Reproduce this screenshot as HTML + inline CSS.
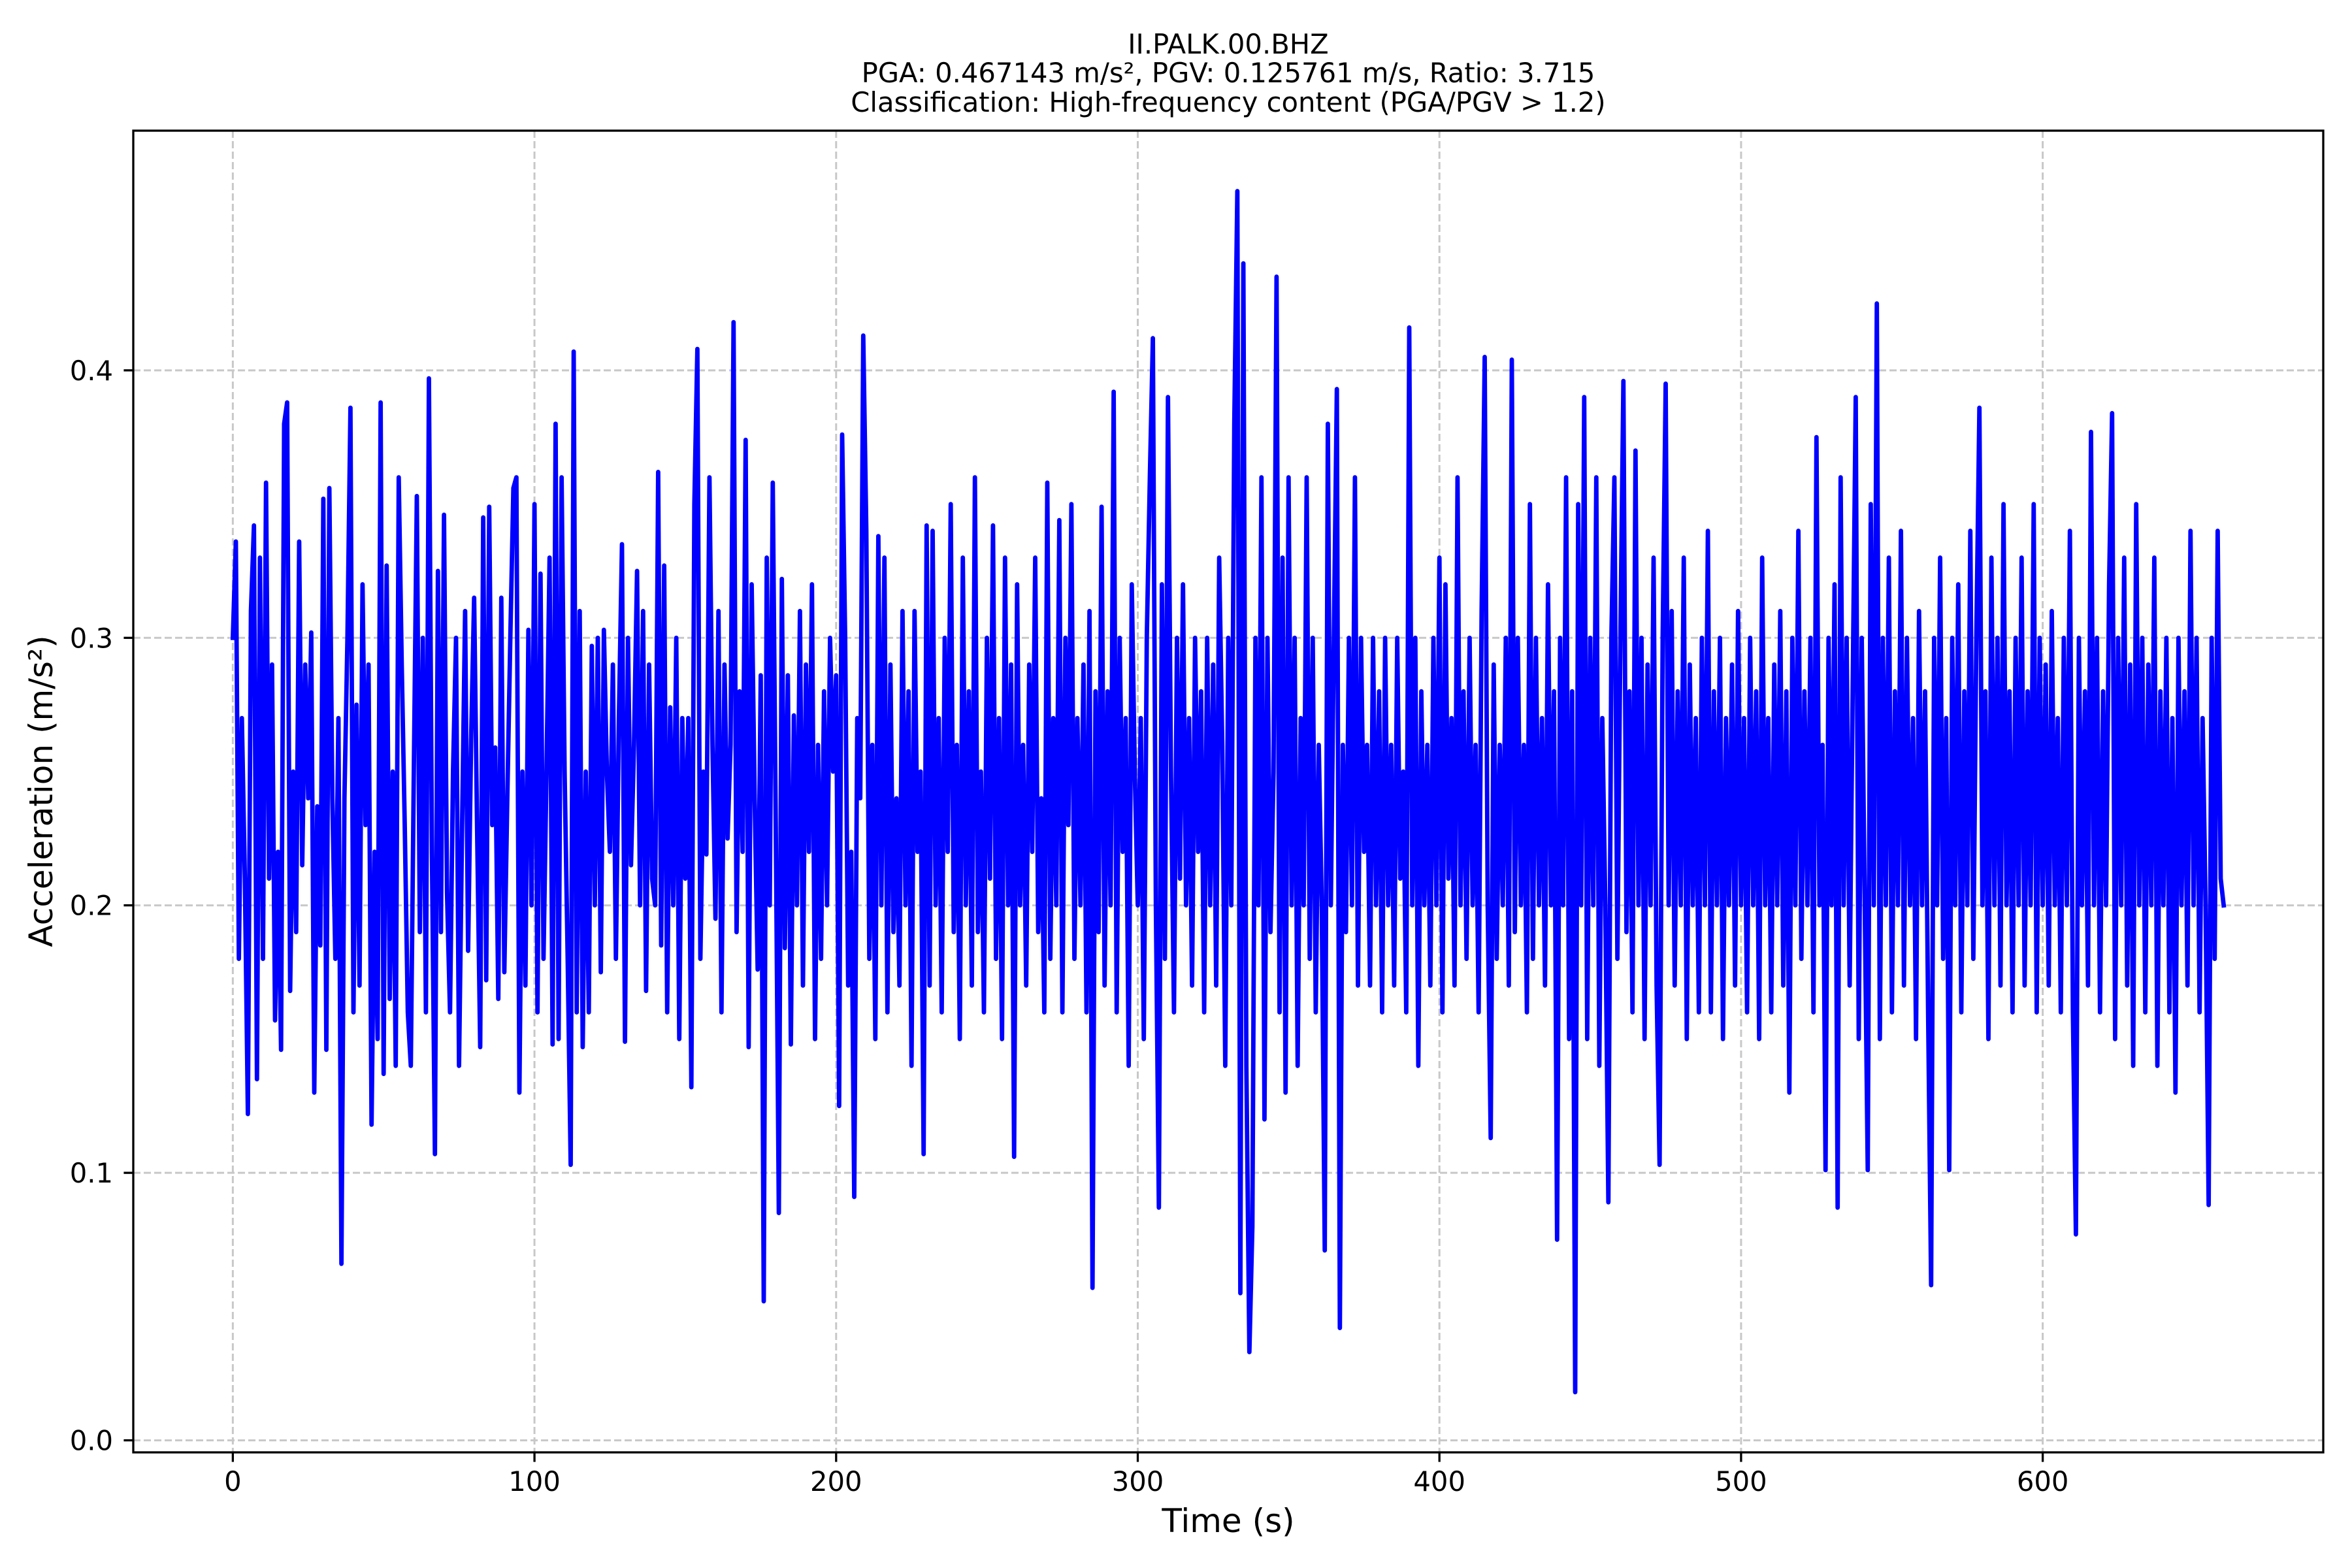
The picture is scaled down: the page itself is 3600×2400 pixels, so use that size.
<!DOCTYPE html>
<html><head><meta charset="utf-8"><style>
html,body{margin:0;padding:0;background:#fff;}
svg{display:block;font-family:"DejaVu Sans","Liberation Sans",sans-serif;}
</style></head><body>
<svg id="chart" xmlns="http://www.w3.org/2000/svg" width="3600" height="2400" viewBox="0 0 3600 2400">
<rect width="3600" height="2400" fill="#fff"/>
<g font-size="41.7" text-anchor="middle" fill="#000">
<text x="1880" y="82">II.PALK.00.BHZ</text>
<text x="1880" y="126">PGA: 0.467143 m/s², PGV: 0.125761 m/s, Ratio: 3.715</text>
<text x="1880" y="171">Classification: High-frequency content (PGA/PGV &gt; 1.2)</text>
</g>
<g id="grid"></g>
<g id="series"></g>
<rect x="204" y="200" width="3352" height="2023" fill="none" stroke="#000" stroke-width="3.3"/>
<g id="xticks"></g>
<g id="yticks"></g>
<text x="1880" y="2345" font-size="50" text-anchor="middle">Time (s)</text>
<text transform="translate(80,1211) rotate(-90)" font-size="50" text-anchor="middle">Acceleration (m/s²)</text>
</svg>
<script>
const xTickValues=[0,100,200,300,400,500,600];
const xTickLabels=["0","100","200","300","400","500","600"];
const yTickValues=[0,0.1,0.2,0.3,0.4];
const yTickLabels=["0.0","0.1","0.2","0.3","0.4"];
const timeStart=0;
const timeStep=1;
const accel=[
.30,.336,.18,.27,.21,.122,.31,.342,.135,.33,
.18,.358,.21,.29,.157,.22,.146,.38,.388,.168,
.25,.19,.336,.215,.29,.24,.302,.13,.237,.185,
.352,.146,.356,.24,.18,.27,.066,.24,.30,.386,
.16,.275,.17,.32,.23,.29,.118,.22,.15,.388,
.137,.327,.165,.25,.14,.36,.29,.23,.16,.14,
.25,.353,.19,.30,.16,.397,.22,.107,.325,.19,
.346,.205,.16,.25,.30,.14,.23,.31,.183,.262,
.315,.228,.147,.345,.172,.349,.23,.259,.165,.315,
.175,.24,.30,.356,.36,.13,.25,.17,.303,.2,
.35,.16,.324,.18,.25,.33,.148,.38,.15,.36,
.25,.18,.103,.407,.16,.31,.147,.25,.16,.297,
.2,.30,.175,.303,.25,.22,.29,.18,.27,.335,
.149,.3,.215,.26,.325,.2,.31,.168,.29,.21,
.2,.362,.185,.327,.16,.274,.2,.30,.15,.27,
.21,.27,.132,.35,.408,.18,.25,.219,.36,.26,
.195,.31,.16,.29,.225,.26,.418,.19,.28,.22,
.374,.147,.32,.24,.176,.286,.052,.33,.2,.358,
.23,.085,.322,.184,.286,.148,.271,.2,.31,.17,
.29,.22,.32,.15,.26,.18,.28,.2,.3,.25,
.286,.125,.376,.3,.17,.22,.091,.27,.24,.413,
.34,.18,.26,.15,.338,.2,.33,.16,.29,.19,
.24,.17,.31,.2,.28,.14,.31,.22,.25,.107,
.342,.17,.34,.2,.27,.16,.3,.22,.35,.19,
.26,.15,.33,.2,.28,.17,.36,.19,.25,.16,
.3,.21,.342,.18,.27,.15,.33,.2,.29,.106,
.32,.2,.26,.17,.29,.22,.33,.19,.24,.16,
.358,.18,.27,.2,.344,.16,.3,.23,.35,.18,
.27,.2,.29,.16,.31,.057,.28,.19,.349,.17,
.28,.2,.392,.16,.3,.22,.27,.14,.32,.25,
.2,.27,.15,.3,.36,.412,.2,.087,.32,.18,
.39,.25,.16,.3,.21,.32,.2,.27,.17,.3,
.22,.28,.16,.3,.2,.29,.17,.33,.26,.14,
.3,.2,.38,.467,.055,.44,.14,.033,.08,.3,
.2,.36,.12,.3,.19,.25,.435,.16,.33,.13,
.36,.2,.3,.14,.27,.2,.36,.18,.3,.16,
.26,.2,.071,.38,.2,.3,.393,.042,.26,.19,
.3,.2,.36,.17,.3,.22,.26,.17,.3,.2,
.28,.16,.3,.2,.26,.17,.3,.21,.25,.16,
.416,.2,.3,.14,.28,.2,.26,.17,.3,.2,
.33,.16,.32,.21,.27,.17,.36,.2,.28,.18,
.3,.2,.26,.16,.31,.405,.2,.113,.29,.18,
.26,.2,.3,.17,.404,.19,.3,.2,.26,.16,
.35,.18,.3,.2,.27,.17,.32,.2,.28,.075,
.3,.2,.36,.15,.28,.018,.35,.2,.39,.15,
.3,.2,.36,.14,.27,.2,.089,.3,.36,.18,
.3,.396,.19,.28,.16,.37,.2,.3,.15,.29,
.2,.33,.17,.103,.3,.395,.2,.31,.17,.28,
.2,.33,.15,.29,.2,.27,.16,.3,.2,.34,
.16,.28,.2,.3,.15,.27,.2,.29,.17,.31,
.2,.27,.16,.3,.2,.28,.15,.33,.2,.27,
.16,.29,.2,.31,.17,.28,.13,.3,.2,.34,
.18,.28,.2,.3,.16,.375,.2,.26,.101,.3,
.2,.32,.087,.36,.2,.3,.17,.28,.39,.15,
.3,.2,.101,.35,.2,.425,.15,.3,.2,.33,
.16,.28,.2,.34,.17,.3,.2,.27,.15,.31,
.2,.28,.16,.058,.3,.2,.33,.18,.27,.101,
.3,.2,.32,.16,.28,.2,.34,.18,.3,.386,
.2,.28,.15,.33,.2,.3,.17,.35,.2,.28,
.16,.3,.2,.33,.17,.28,.2,.35,.16,.3,
.2,.29,.17,.31,.2,.27,.16,.3,.2,.34,
.16,.077,.3,.2,.28,.17,.377,.2,.3,.16,
.28,.2,.32,.384,.15,.3,.2,.33,.17,.29,
.14,.35,.2,.3,.16,.29,.2,.33,.14,.28,
.2,.3,.16,.27,.13,.3,.2,.28,.17,.34,
.2,.3,.16,.27,.2,.088,.3,.18,.34,.21,
.2];

const NS="http://www.w3.org/2000/svg";
const X0=204,X1=3556,Y0=200,Y1=2223;
const xMin=-33,xMax=693,yMin=-0.0045,yMax=0.4896;
function xs(v){return X0+(v-xMin)/(xMax-xMin)*(X1-X0);}
function ys(v){return Y1-(v-yMin)/(yMax-yMin)*(Y1-Y0);}
function mk(tag,attrs,parent){const e=document.createElementNS(NS,tag);for(const k in attrs)e.setAttribute(k,attrs[k]);parent.appendChild(e);return e;}

const grid=document.getElementById('grid');
const xt=document.getElementById('xticks');
const yt=document.getElementById('yticks');
xTickValues.forEach((v,i)=>{
  const x=xs(v);
  const g=mk('line',{x1:x,x2:x,y1:Y0,y2:Y1,stroke:'#c8c8c8','stroke-width':3,'stroke-dasharray':'11,5'},grid);
  
  
  const t=mk('line',{x1:x,x2:x,y1:Y1,y2:Y1+14.6,stroke:'#000','stroke-width':3.3},xt);
  
  
  const l=mk('text',{x:x,y:2282,'font-size':41.7,'text-anchor':'middle'},xt);
  l.textContent=xTickLabels[i];
  
  
});
yTickValues.forEach((v,i)=>{
  const y=ys(v);
  const g=mk('line',{x1:X0,x2:X1,y1:y,y2:y,stroke:'#c8c8c8','stroke-width':3,'stroke-dasharray':'11,5'},grid);
  
  
  const t=mk('line',{x1:X0-14.6,x2:X0,y1:y,y2:y,stroke:'#000','stroke-width':3.3},yt);
  
  
  const l=mk('text',{x:173,y:y+15,'font-size':41.7,'text-anchor':'end'},yt);
  l.textContent=yTickLabels[i];
  
  
});
const pts=accel.map((v,i)=>xs(timeStart+i*timeStep).toFixed(1)+','+ys(v).toFixed(1)).join(' ');
const line=mk('polyline',{points:pts,fill:'none',stroke:'#0000ff','stroke-width':6.8,'stroke-linejoin':'round','stroke-linecap':'square'},document.getElementById('series'));


</script>
</body></html>
